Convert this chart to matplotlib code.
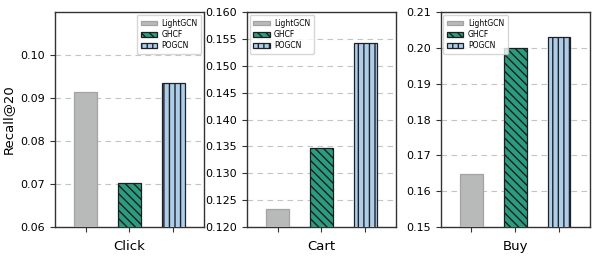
import numpy as np
import matplotlib
matplotlib.use('Agg')
import matplotlib.pyplot as plt

# Recall@20 per behaviour type
behaviours = ['Click', 'Cart', 'Buy']
models = ['LightGCN', 'GHCF', 'POGCN']
click_vals = [0.0914, 0.0703, 0.0934]
cart_vals = [0.1233, 0.1348, 0.1542]
buy_vals = [0.1647, 0.2000, 0.2030]

y_limits = [(0.06, 0.11), (0.12, 0.16), (0.15, 0.21)]
y_ticks = [np.arange(0.06, 0.1001, 0.01),
           np.arange(0.12, 0.1601, 0.005),
           np.arange(0.15, 0.2101, 0.01)]
y_fmt = ['%.2f', '%.3f', '%.2f']
legend_loc = ['upper right', 'upper left', 'upper left']

colors = ['#b8baba', '#2a9d80', '#aecde9']
edges = ['#a2a4a4', '#1e1e1e', '#1e2228']
hatches = ['', '\\\\\\\\', '|||']

plt.rcParams['hatch.linewidth'] = 1.0

fig = plt.figure(figsize=(5.98, 2.58), dpi=100)
lefts = [0.092, 0.413, 0.737]
width = 0.249
all_vals = [click_vals, cart_vals, buy_vals]

x = np.arange(len(models))
for i, (name, vals) in enumerate(zip(behaviours, all_vals)):
    ax = fig.add_axes([lefts[i], 0.12, width, 0.833])
    for j in range(len(models)):
        ax.bar(x[j], vals[j], width=0.52, color=colors[j], edgecolor=edges[j],
               linewidth=0.9, hatch=hatches[j], label=models[j], zorder=3)
    ax.set_xlim(-0.7, 2.7)
    ax.set_ylim(*y_limits[i])
    ax.set_yticks(y_ticks[i])
    ax.set_yticklabels([y_fmt[i] % t for t in y_ticks[i]], fontsize=8)
    ax.set_xticks(x)
    ax.set_xticklabels([''] * len(models))
    ax.tick_params(axis='x', length=3.5, color='#333333')
    ax.tick_params(axis='y', length=3.5, color='#333333')
    ax.set_xlabel(name, fontsize=9.5, labelpad=2)
    ax.yaxis.grid(True, linestyle=(0, (5, 4)), color='#c4c4c4', linewidth=0.8)
    ax.set_axisbelow(True)
    for sp in ax.spines.values():
        sp.set_color('#333333')
        sp.set_linewidth(1.0)
    ax.legend(loc=legend_loc[i], fontsize=5.5, frameon=True, borderaxespad=0.35,
              handlelength=2.1, handleheight=0.55, labelspacing=0.3,
              handletextpad=0.6, borderpad=0.5)
    if i == 0:
        ax.set_ylabel('Recall@20', fontsize=9.5)

fig.savefig('out.png', dpi=100)
